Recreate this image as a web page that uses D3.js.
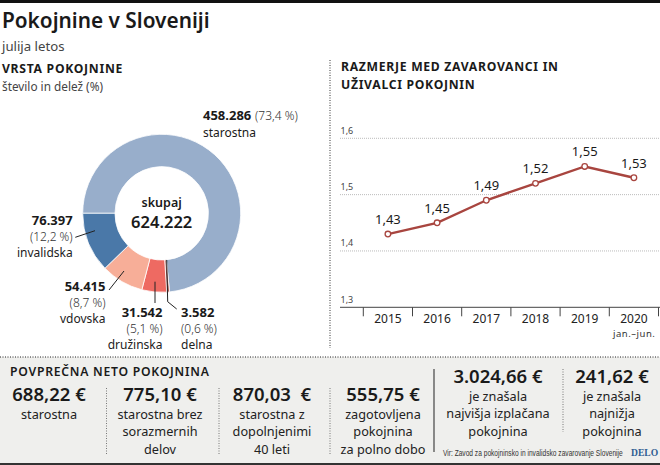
<!DOCTYPE html>
<html>
<head>
<meta charset="utf-8">
<script src="https://d3js.org/d3.v7.min.js"></script>
<style>
html, body { margin: 0; padding: 0; background: #fff; }
svg { display: block; font-family: "Noto Sans", sans-serif; }
</style>
</head>
<body>
<svg id="chart" width="660" height="465"></svg>
<script>
// podatki
var types = ["starostna", "delna", "družinska", "vdovska", "invalidska"];
var counts = [458286, 3582, 31542, 54415, 76397];
var countLabels = ["458.286", "3.582", "31.542", "54.415", "76.397"];
var shareLabels = ["(73,4 %)", "(0,6 %)", "(5,1 %)", "(8,7 %)", "(12,2 %)"];
var typeColors = ["#98aecb", "#a5554f", "#ee6a62", "#f7ae98", "#4a78a8"];

var years = ["2015", "2016", "2017", "2018", "2019", "2020"];
var ratio = [1.43, 1.45, 1.49, 1.52, 1.55, 1.53];
var ratioTicks = [1.3, 1.4, 1.5, 1.6];

var avgValues = ["688,22 €", "775,10 €", "870,03  €", "555,75 €", "3.024,66 €", "241,62 €"];
var avgNotes = [
  ["starostna"],
  ["starostna brez", "sorazmernih", "delov"],
  ["starostna z", "dopolnjenimi", "40 leti"],
  ["zagotovljena", "pokojnina", "za polno dobo"],
  ["je znašala", "najvišja izplačana", "pokojnina"],
  ["je znašala", "najnižja", "pokojnina"]
];

var svg = d3.select("#chart");
var ink = "#1a1a1a", gray = "#333";

function label(x, y, str, size, weight, color, anchor) {
  return svg.append("text").attr("x", x).attr("y", y).text(str)
    .attr("font-size", size).attr("font-weight", weight || 400)
    .attr("fill", color || ink).attr("text-anchor", anchor || "start")
    .style("white-space", "pre");
}

// zgornji del
svg.append("rect").attr("width", 660).attr("height", 3).attr("fill", "#111");
label(2, 28, "Pokojnine v Sloveniji", 20.8, 600);
label(2, 51, "julija letos", 13.2, 400, "#444");
label(2, 73, "VRSTA POKOJNINE", 12.2, 700).attr("letter-spacing", 0.7);
label(2, 91, "število in delež (%)", 11.8, 400, "#444");

// spodnji panel (ozadje najprej)
svg.append("rect").attr("x", 0).attr("y", 357).attr("width", 660).attr("height", 106).attr("fill", "#efefed");
svg.append("rect").attr("x", 0).attr("y", 463).attr("width", 660).attr("height", 2).attr("fill", "#333");
svg.append("line").attr("x1", 0).attr("x2", 660).attr("y1", 357).attr("y2", 357)
  .attr("stroke", "#222").attr("stroke-dasharray", "1 1.5");
svg.append("line").attr("x1", 330).attr("x2", 330).attr("y1", 60).attr("y2", 348)
  .attr("stroke", "#333").attr("stroke-dasharray", "1 1.5");

// krog
var cx = 161.7, cy = 213.3;
var pie = d3.pie().sort(null).startAngle(-Math.PI / 2).endAngle(1.5 * Math.PI);
var arc = d3.arc().innerRadius(46.7).outerRadius(79);
var arcs = pie(counts);
var donut = svg.append("g").attr("transform", "translate(" + cx + "," + cy + ")");
donut.selectAll("path").data(arcs).enter().append("path")
  .attr("d", arc)
  .attr("fill", function(d, i) { return typeColors[i]; })
  .attr("stroke", "#fff").attr("stroke-width", 0.8);

label(cx, 206.5, "skupaj", 12.5, 600, ink, "middle");
label(cx, 228, "624.222", 16.5, 600, ink, "middle");

// oznake
label(203, 120, countLabels[0], 13, 700);
label(255, 120, shareLabels[0], 12, 300, gray);
label(203, 137, types[0], 12);

function sliceLabel(i, x, y, anchor) {
  label(x, y, countLabels[i], 13, 700, ink, anchor);
  label(x, y + 16, shareLabels[i], 12, 300, gray, anchor);
  label(x, y + 31.5, types[i], 12, 400, "#222", anchor);
}
sliceLabel(4, 72.7, 225, "end");
sliceLabel(3, 105.5, 291, "end");
sliceLabel(2, 162.5, 317, "end");
sliceLabel(1, 181, 317, "start");

var leader = d3.line();
[
  [[75.3, 237.3], [95, 230.7]],
  [[109, 290], [124, 271]],
  [[155, 281.7], [155, 303]],
  [[166.7, 260], [167.7, 301.7], [176.7, 309]]
].forEach(function(pts) {
  svg.append("path").attr("d", leader(pts)).attr("fill", "none")
    .attr("stroke", "#222").attr("stroke-width", 1);
});

// razmerje
label(341, 71, "RAZMERJE MED ZAVAROVANCI IN", 12.2, 700).attr("letter-spacing", 0.7);
label(341, 89, "UŽIVALCI POKOJNIN", 12.2, 700).attr("letter-spacing", 0.7);

var x = d3.scaleBand().domain(years).range([363.3, 658.5]);
var y = d3.scaleLinear().domain([1.3, 1.6]).range([307.3, 138.3]);
var fmt = function(v) { return d3.format(".1f")(v).replace(".", ","); };
var fmt2 = function(v) { return d3.format(".2f")(v).replace(".", ","); };

ratioTicks.forEach(function(t) {
  if (t > 1.3) {
    svg.append("line").attr("x1", 340).attr("x2", 660).attr("y1", y(t)).attr("y2", y(t))
      .attr("stroke", "#aaa").attr("stroke-width", 0.8).attr("stroke-dasharray", "1 1");
  }
  label(340.5, y(t) - 4.5, fmt(t), 9, 400, "#444");
});

var axis = d3.axisBottom(x).tickSize(0).tickFormat(function(d) { return d; });
var axisG = svg.append("g").attr("transform", "translate(0," + y(1.3) + ")").call(axis);
axisG.select(".domain").remove();
axisG.selectAll("text").attr("font-size", 12).attr("font-family", "Noto Sans").attr("fill", "#222").attr("dy", "0").attr("y", 16);
svg.append("line").attr("x1", 340).attr("x2", 660).attr("y1", y(1.3)).attr("y2", y(1.3)).attr("stroke", "#444").attr("stroke-width", 1);
x.domain().concat("end").forEach(function(d, i) {
  var tx = x.range()[0] + i * x.step();
  svg.append("line").attr("x1", tx).attr("x2", tx).attr("y1", y(1.3)).attr("y2", y(1.3) + 9).attr("stroke", "#444").attr("stroke-width", 1);
});
label(x("2020") + x.bandwidth() / 2, 337, "jan.–jun.", 9.5, 400, "#333", "middle").attr("textLength", 42);

var xc = function(d, i) { return x(years[i]) + x.bandwidth() / 2; };
var line = d3.line().x(xc).y(function(d) { return y(d); });
svg.append("path").datum(ratio).attr("d", line).attr("fill", "none")
  .attr("stroke", "#a8453f").attr("stroke-width", 2.4);
svg.selectAll("circle.pt").data(ratio).enter().append("circle").attr("class", "pt")
  .attr("cx", xc).attr("cy", function(d) { return y(d); }).attr("r", 2.8)
  .attr("fill", "#fff").attr("stroke", "#a8453f").attr("stroke-width", 1.3);
svg.selectAll("text.val").data(ratio).enter().append("text").attr("class", "val")
  .attr("x", xc).attr("y", function(d) { return y(d) - 10; })
  .attr("text-anchor", "middle").attr("font-size", 13).attr("fill", ink)
  .text(fmt2);

// povprecna pokojnina
label(10, 376, "POVPREČNA NETO POKOJNINA", 12.2, 600).attr("letter-spacing", 0.75);

var colX = [49, 160, 272, 383, 498, 612];
var valueY = [401, 401, 401, 401, 383, 383];
avgValues.forEach(function(v, i) {
  label(colX[i], valueY[i], v, 18.5, 600, ink, "middle");
  avgNotes[i].forEach(function(s, j) {
    label(colX[i], valueY[i] + 18 + j * 17.3, s, 12.7, 400, "#222", "middle");
  });
});

[[106.5, 388, 455], [219, 388, 455], [330, 388, 455], [563, 369, 432]].forEach(function(s) {
  svg.append("line").attr("x1", s[0]).attr("x2", s[0]).attr("y1", s[1]).attr("y2", s[2])
    .attr("stroke", "#777").attr("stroke-dasharray", "1 1.5");
});
svg.append("line").attr("x1", 434).attr("x2", 434).attr("y1", 369).attr("y2", 452).attr("stroke", "#444").attr("stroke-width", 1.2);

// vir je ozek, zato ga stisnemo na 180 px
var src = label(0, 0, "Vir: Zavod za pokojninsko in invalidsko zavarovanje Slovenije", 8.5, 400, "#333")
  .style("font-family", "Liberation Sans");
src.attr("transform", "translate(443,456) scale(" + (180 / src.node().getComputedTextLength()) + ",1)");
label(631, 456, "DELO", 9.6, 700, "#2f5d92").style("font-family", "Liberation Serif");
</script>
</body>
</html>
